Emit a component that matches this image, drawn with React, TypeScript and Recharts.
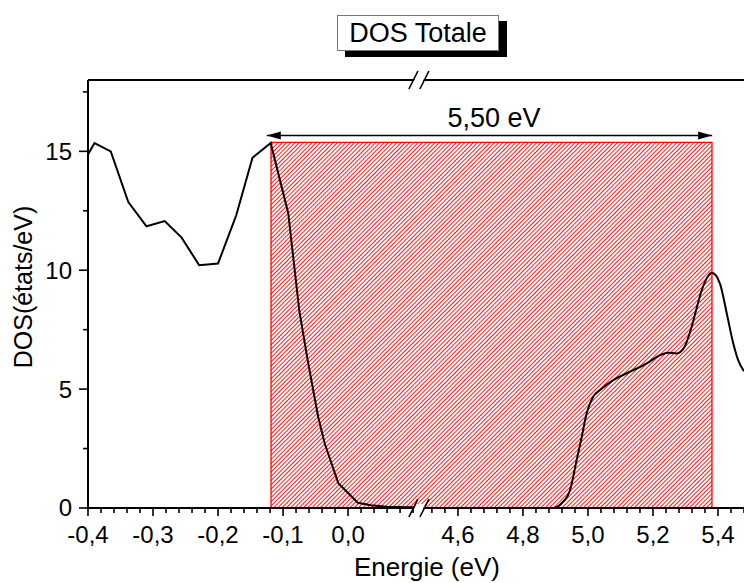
import React from 'react';
import { LineChart, Line, XAxis, YAxis, ReferenceArea, ReferenceLine, ReferenceDot } from 'recharts';

const W = 744;
const H = 583;
const FONT = '"Liberation Sans", Arial, sans-serif';

// left of the break: valence band edge (eV, états/eV)
const lowEnergy = [-0.4, -0.39, -0.365, -0.338, -0.31, -0.282, -0.256, -0.229, -0.2, -0.172, -0.147, -0.119, -0.092, -0.075, -0.062, -0.046, -0.036, -0.015, 0.015, 0.035, 0.06, 0.09, 0.109];
const lowDos = [14.87, 15.35, 15.0, 12.87, 11.85, 12.07, 11.37, 10.21, 10.28, 12.31, 14.73, 15.35, 12.4, 8.3, 6.2, 3.84, 2.72, 1.04, 0.22, 0.12, 0.05, 0.03, 0.03];

// right of the break: conduction band edge
const highEnergy = [4.48, 4.6, 4.8, 4.893, 4.919, 4.945, 4.965, 4.981, 4.996, 5.016, 5.037, 5.078, 5.129, 5.181, 5.222, 5.247, 5.273, 5.296, 5.319, 5.334, 5.35, 5.36, 5.381, 5.406, 5.427, 5.447, 5.462, 5.48];
const highDos = [0, 0, 0, 0, 0.2, 0.76, 2.0, 3.0, 3.98, 4.68, 4.96, 5.38, 5.73, 6.08, 6.43, 6.53, 6.5, 6.75, 7.62, 8.39, 9.16, 9.51, 9.89, 9.44, 8.18, 6.92, 6.22, 5.75];

const yMajor = [0, 5, 10, 15];
const yMinor = [2.5, 7.5, 12.5, 17.5];
const lowMajor = [-0.4, -0.3, -0.2, -0.1, 0.0];
const highMajor = [4.6, 4.8, 5.0, 5.2, 5.4];

// gap box + arrow
const gapStart = -0.1185;
const gapEnd = 5.3815;
const gapTop = 15.38;
const arrowY = 15.67;
const arrowFrom = -0.125;
const arrowTo = 5.382;
const gapLabel = '5,50 eV';
const gapLabelAt = { x: 4.711, y: 16.43 };

// visible energy windows on both sides of the break
const lowView = [-0.4, 0.109];
const highView = [4.48, 5.48];

const lowData = lowEnergy.map((e, i) => ({ e, dos: lowDos[i] }));
const highData = highEnergy.map((e, i) => ({ e, dos: highDos[i] }));

const steps = (from: number, to: number, step: number) => {
  const out: number[] = [];
  for (let v = from; v <= to + 1e-9; v += step) out.push(Math.round(v * 1000) / 1000);
  return out;
};
const lowTicks = steps(-0.4, 0.1, 0.02);
const highTicks = steps(4.52, 5.48, 0.04);

// layout: left window is drawn at twice the scale of the right one
const plotLeft = 88;
const plotW = W - plotLeft;
const pxPerEv = plotW / (2 * (lowView[1] - lowView[0]) + (highView[1] - highView[0]));
const lowDomain = [lowView[0], lowView[0] + plotW / (2 * pxPerEv)];
const highDomain = [highView[1] - plotW / pxPerEv, highView[1]];

const isIn = (list: number[], v: number) => list.some((m) => Math.abs(m - v) < 1e-6);
const fmt = (v: number) => (Math.round(v * 100) / 100).toFixed(1).replace('.', ',');

const BottomTick = ({ x, y, payload, majors }: any) => {
  const major = isIn(majors, payload.value);
  return (
    <g>
      <line x1={x} x2={x} y1={y} y2={y + (major ? 8 : 5)} stroke="#000" strokeWidth={1.6} />
      {major && (
        <text x={x} y={y + 35} textAnchor="middle" fontFamily={FONT} fontSize={24} fill="#000">
          {fmt(payload.value)}
        </text>
      )}
    </g>
  );
};

const TopTick = ({ x, y }: any) => (
  <line x1={x} x2={x} y1={y} y2={y - 3} stroke="#000" strokeWidth={1.2} />
);

const LeftTick = ({ x, y, payload }: any) => {
  const major = isIn(yMajor, payload.value);
  return (
    <g>
      <line x1={x - (major ? 9 : 5)} x2={x} y1={y} y2={y} stroke="#000" strokeWidth={1.6} />
      {major && (
        <text x={x - 16} y={y} dy="0.35em" textAnchor="end" fontFamily={FONT} fontSize={24} fill="#000">
          {payload.value}
        </text>
      )}
    </g>
  );
};

const hatchShape = (open: 'left' | 'right') => (p: any) => {
  const { x, y, width, height } = p;
  const d =
    open === 'right'
      ? `M${x + width},${y} H${x} V${y + height} H${x + width}`
      : `M${x},${y} H${x + width} V${y + height} H${x}`;
  return (
    <g>
      <rect x={x} y={y} width={width} height={height} fill="url(#hatch)" />
      <path d={d} fill="none" stroke="#ff0000" strokeWidth={1.3} />
    </g>
  );
};

const arrowShape = (head: 'start' | 'end') => (p: any) => {
  const { x1, y1, x2, y2 } = p;
  const tip = head === 'start' ? Math.min(x1, x2) : Math.max(x1, x2);
  const dir = head === 'start' ? 1 : -1;
  return (
    <g>
      <line x1={x1} y1={y1} x2={x2} y2={y2} stroke="#000" strokeWidth={1.5} />
      <polygon points={`${tip},${y1} ${tip + dir * 14},${y1 - 4} ${tip + dir * 14},${y1 + 4}`} fill="#000" />
    </g>
  );
};

const BreakMark = ({ cx, cy }: any) => (
  <g>
    <polygon
      points={`${cx - 6.5},${cy + 4} ${cx - 2.5},${cy - 4} ${cx + 6.5},${cy - 4} ${cx + 2.5},${cy + 4}`}
      fill="#fff"
    />
    <line x1={cx - 10} y1={cy + 9} x2={cx - 1} y2={cy - 9} stroke="#000" strokeWidth={1.6} />
    <line x1={cx + 1} y1={cy + 9} x2={cx + 10} y2={cy - 9} stroke="#000" strokeWidth={1.6} />
  </g>
);

const GapLabel = ({ cx, cy }: any) => (
  <text x={cx} y={cy} dy="0.35em" textAnchor="middle" fontFamily={FONT} fontSize={27} fill="#000">
    {gapLabel}
  </text>
);

export default function App() {
  return (
    <div style={{ position: 'absolute', left: 0, top: 0, width: W, height: H, background: '#fff' }}>
      <LineChart width={W} height={H} margin={{ top: 70, right: 0, bottom: 35, left: 0 }}>
        <defs>
          <pattern id="hatch" patternUnits="userSpaceOnUse" width={3} height={3} patternTransform="rotate(45)">
            <rect width={3} height={3} fill="#fff" />
            <line x1={0} y1={0} x2={0} y2={3} stroke="#ff0000" strokeWidth={1.8} />
          </pattern>
        </defs>
        <XAxis
          xAxisId="L"
          dataKey="e"
          type="number"
          domain={lowDomain}
          allowDataOverflow
          ticks={lowTicks}
          interval={0}
          height={40}
          tickSize={0}
          tickMargin={0}
          tickLine={false}
          axisLine={{ stroke: '#000', strokeWidth: 2 }}
          tick={(p: any) => <BottomTick {...p} majors={lowMajor} />}
        />
        <XAxis
          xAxisId="R"
          dataKey="e"
          type="number"
          mirror
          domain={highDomain}
          allowDataOverflow
          ticks={highTicks}
          interval={0}
          tickSize={0}
          tickMargin={0}
          tickLine={false}
          axisLine={false}
          tick={(p: any) => <BottomTick {...p} majors={highMajor} />}
        />
        <XAxis
          xAxisId="LT"
          orientation="top"
          type="number"
          domain={lowDomain}
          allowDataOverflow
          ticks={lowTicks}
          interval={0}
          height={10}
          tickSize={0}
          tickMargin={0}
          tickLine={false}
          axisLine={{ stroke: '#000', strokeWidth: 2 }}
          tick={(p: any) => <TopTick {...p} />}
        />
        <XAxis
          xAxisId="RT"
          orientation="top"
          mirror
          type="number"
          domain={highDomain}
          allowDataOverflow
          ticks={highTicks}
          interval={0}
          tickSize={0}
          tickMargin={0}
          tickLine={false}
          axisLine={false}
          tick={(p: any) => <TopTick {...p} />}
        />
        <YAxis
          type="number"
          domain={[0, 18]}
          allowDataOverflow
          ticks={[...yMinor, ...yMajor]}
          interval={0}
          width={plotLeft}
          tickSize={0}
          tickMargin={0}
          tickLine={false}
          axisLine={{ stroke: '#000', strokeWidth: 2 }}
          tick={(p: any) => <LeftTick {...p} />}
        />
        <ReferenceArea xAxisId="L" x1={gapStart} x2={lowView[1]} y1={0} y2={gapTop} ifOverflow="visible" shape={hatchShape('right')} />
        <ReferenceArea xAxisId="R" x1={highView[0]} x2={gapEnd} y1={0} y2={gapTop} ifOverflow="visible" shape={hatchShape('left')} />
        <ReferenceLine
          xAxisId="L"
          segment={[{ x: arrowFrom, y: arrowY }, { x: lowView[1], y: arrowY }]}
          ifOverflow="visible"
          shape={arrowShape('start')}
        />
        <ReferenceLine
          xAxisId="R"
          segment={[{ x: highView[0], y: arrowY }, { x: arrowTo, y: arrowY }]}
          ifOverflow="visible"
          shape={arrowShape('end')}
        />
        <Line xAxisId="L" data={lowData} dataKey="dos" type="linear" stroke="#000" strokeWidth={2} dot={false} isAnimationActive={false} />
        <Line xAxisId="R" data={highData} dataKey="dos" type="monotone" stroke="#000" strokeWidth={2} dot={false} isAnimationActive={false} />
        <ReferenceDot xAxisId="R" x={gapLabelAt.x} y={gapLabelAt.y} ifOverflow="visible" shape={GapLabel} />
        <ReferenceDot xAxisId="L" x={lowView[1]} y={0} ifOverflow="visible" shape={BreakMark} />
        <ReferenceDot xAxisId="L" x={lowView[1]} y={18} ifOverflow="visible" shape={BreakMark} />
      </LineChart>

      <svg width={W} height={H} style={{ position: 'absolute', left: 0, top: 0, pointerEvents: 'none' }}>
        <text x={427} y={576} textAnchor="middle" fontFamily={FONT} fontSize={26} fill="#000">
          Energie (eV)
        </text>
        <text transform="translate(32,287) rotate(-90)" textAnchor="middle" fontFamily={FONT} fontSize={25} fill="#000">
          DOS(états/eV)
        </text>
      </svg>

      <div
        style={{
          position: 'absolute',
          left: 337,
          top: 15,
          width: 160,
          height: 34,
          border: '1px solid #777',
          background: '#fff',
          boxShadow: '8px 6px 0 0 #000',
          fontFamily: FONT,
          fontSize: 27,
          lineHeight: '34px',
          textAlign: 'center',
          color: '#000',
        }}
      >
        DOS Totale
      </div>
    </div>
  );
}
